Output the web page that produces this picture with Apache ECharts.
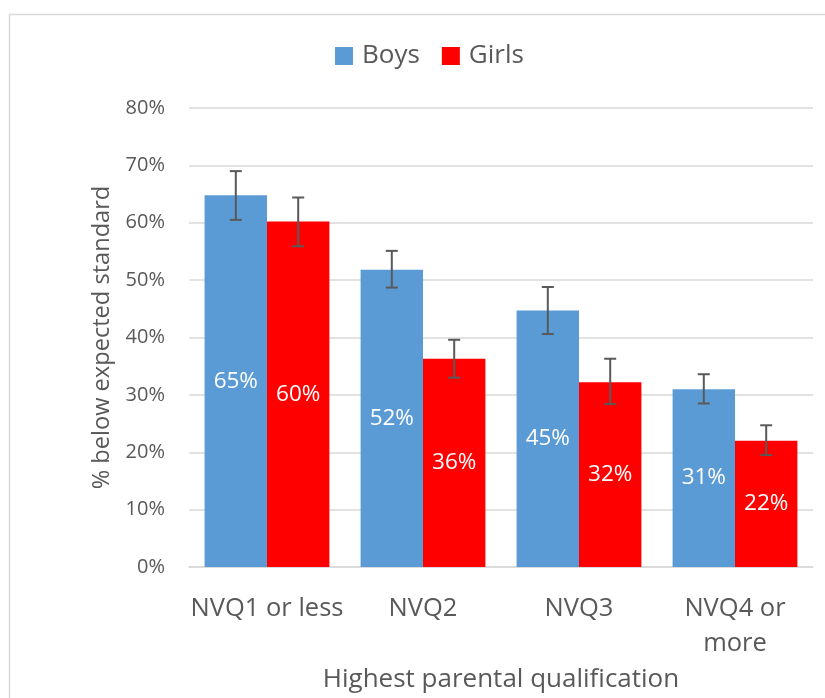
<!DOCTYPE html>
<html>
<head>
<meta charset="utf-8">
<script src="https://cdn.jsdelivr.net/npm/echarts@6/dist/echarts.min.js"></script>
<style>html,body{margin:0;padding:0;background:#fff;}#c{width:825px;height:698px;}</style>
</head>
<body>
<div id="c"></div>
<script>
var categories = ['NVQ1 or less', 'NVQ2', 'NVQ3', 'NVQ4 or\nmore'];
var boys = [64.8, 51.8, 44.7, 31.0];
var girls = [60.2, 36.3, 32.2, 22.0];
var boysLow = [60.5, 48.7, 40.6, 28.5];
var boysHigh = [69.0, 55.1, 48.8, 33.6];
var girlsLow = [55.9, 33.0, 28.4, 19.5];
var girlsHigh = [64.4, 39.6, 36.3, 24.7];
var yTicks = [0, 10, 20, 30, 40, 50, 60, 70, 80];

var font = 'Open Sans';
var textColor = '#595959';

function errData(low, high) {
  return categories.map(function (c, i) { return [i, low[i], high[i]]; });
}
function errRender(side) {
  return function (params, api) {
    var idx = api.value(0);
    var lowPt = api.coord([idx, api.value(1)]);
    var highPt = api.coord([idx, api.value(2)]);
    var band = api.size([1, 0])[0];
    var x = lowPt[0] + side * band * 0.8 / 4;
    var cap = 6;
    var st = { stroke: '#595959', lineWidth: 2 };
    return {
      type: 'group',
      children: [
        { type: 'line', shape: { x1: x, y1: lowPt[1], x2: x, y2: highPt[1] }, style: st },
        { type: 'line', shape: { x1: x - cap, y1: lowPt[1], x2: x + cap, y2: lowPt[1] }, style: st },
        { type: 'line', shape: { x1: x - cap, y1: highPt[1], x2: x + cap, y2: highPt[1] }, style: st }
      ]
    };
  };
}

var chart = echarts.init(document.getElementById('c'), null, { renderer: 'canvas' });
var labelOpt = {
  show: true, position: 'inside', color: '#ffffff', fontFamily: font, fontSize: 22.5,
  formatter: function (p) { return Math.round(p.value) + '%'; }
};
chart.setOption({
  animation: false,
  backgroundColor: '#ffffff',
  graphic: [{
    type: 'rect', left: 7, top: 12, shape: { width: 840, height: 720 },
    style: { fill: 'none', stroke: '#d9d9d9', lineWidth: 1.5 }, silent: true
  }],
  legend: {
    data: ['Boys', 'Girls'],
    left: 330, top: 38,
    itemWidth: 18, itemHeight: 18, itemGap: 22,
    icon: 'rect',
    textStyle: { fontFamily: font, fontSize: 26, color: textColor, padding: [0, 0, 0, 4] }
  },
  grid: { left: 189, right: 12, top: 108, bottom: 126, containLabel: false },
  xAxis: {
    type: 'category',
    data: categories,
    name: 'Highest parental qualification',
    nameLocation: 'middle',
    nameGap: 100,
    nameTextStyle: { fontFamily: font, fontSize: 26, color: textColor },
    axisLine: { lineStyle: { color: '#d9d9d9', width: 1.5 } },
    axisTick: { show: false },
    axisLabel: { fontFamily: font, fontSize: 25.5, color: textColor, margin: 24, lineHeight: 35, interval: 0 }
  },
  yAxis: {
    type: 'value',
    min: 0, max: 80, interval: 10,
    name: '% below expected standard',
    nameLocation: 'middle',
    nameGap: 74,
    nameTextStyle: { fontFamily: font, fontSize: 23.6, color: textColor },
    axisLine: { show: false },
    axisTick: { show: false },
    splitLine: { lineStyle: { color: '#d9d9d9', width: 1.5 } },
    axisLabel: {
      fontFamily: font, fontSize: 20, color: textColor, margin: 24,
      formatter: function (v) { return yTicks.indexOf(v) >= 0 ? v + '%' : ''; }
    }
  },
  series: [
    { name: 'Boys', type: 'bar', data: boys, barGap: '0%', barCategoryGap: '20%',
      itemStyle: { color: '#5B9BD5' }, label: labelOpt },
    { name: 'Girls', type: 'bar', data: girls, barGap: '0%', barCategoryGap: '20%',
      itemStyle: { color: '#FF0000' }, label: labelOpt },
    { type: 'custom', renderItem: errRender(-1), data: errData(boysLow, boysHigh), z: 10,
      encode: { x: 0, y: [1, 2] } },
    { type: 'custom', renderItem: errRender(1), data: errData(girlsLow, girlsHigh), z: 10,
      encode: { x: 0, y: [1, 2] } }
  ]
});
</script>
</body>
</html>
